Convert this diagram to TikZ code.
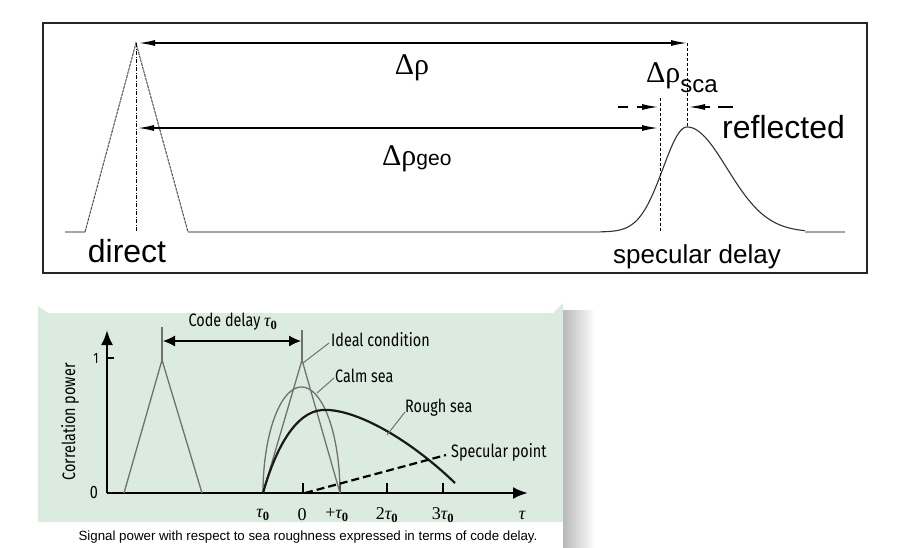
\documentclass[tikz,border=0pt]{standalone}
\usepackage{fontspec}
\setmainfont{Liberation Sans}
\newfontfamily\serifgr{Liberation Serif}
\newfontfamily\cond[FakeStretch=0.8]{Fira Sans}
\usetikzlibrary{arrows.meta}
\definecolor{panelgreen}{HTML}{DCEBE0}
\definecolor{curvegray}{HTML}{707070}
\newcommand{\tauz}{{\serifgr\itshape τ}\textsubscript{\serifgr\bfseries 0}}
\tikzset{
  topframe/.style={line width=1.2pt, draw=black!85},
  topbase/.style={line width=1.3pt, draw=black!35},
  toptri/.style={line width=1pt, draw=black!70, dash pattern=on 3pt off 0.8pt},
  reflcurve/.style={line width=1.1pt, draw=black!80},
  vdashline/.style={line width=1pt, dash pattern=on 3pt off 2pt},
  vdashdot/.style={line width=1pt, dash pattern=on 4pt off 1.5pt on 1pt off 1.5pt},
  dimarrow/.style={line width=1.3pt, {Latex[length=16pt,width=6pt]}-{Latex[length=16pt,width=6pt]}},
  smallarrow/.style={line width=1.2pt, -{Latex[length=16pt,width=6pt]}},
  smallline/.style={line width=1.2pt},
  bigtxt/.style={inner sep=0pt, font=\fontsize{32}{36}\selectfont},
  midtxt/.style={inner sep=0pt, font=\fontsize{26}{30}\selectfont},
  grtxt/.style={inner sep=0pt, font=\serifgr\fontsize{30}{34}\selectfont},
  axisline/.style={line width=2.5pt, -{Latex[length=15pt,width=12pt]}},
  tickline/.style={line width=1.4pt},
  graycurve/.style={line width=1.3pt, draw=curvegray},
  roughcurve/.style={line width=2.2pt, draw=black!90},
  specline/.style={line width=2.2pt, dash pattern=on 8pt off 4pt},
  leader/.style={line width=1pt, draw=curvegray},
  codearrow/.style={line width=1.2pt, {Latex[length=12pt,width=11pt]}-{Latex[length=12pt,width=11pt]}},
  condtxt/.style={inner sep=0pt, font=\cond\fontsize{18}{21}\selectfont},
  axtxt/.style={inner sep=0pt, font=\serifgr\fontsize{18}{21}\selectfont},
}
\begin{document}
\begin{tikzpicture}[x=1pt, y=-1pt]
\useasboundingbox (0,0) rectangle (898,547);
\fill[white] (0,0) rectangle (898,547);

% ---------------- top panel ----------------
\draw[topframe] (43,23) rectangle (867,273);
\coordinate (b0) at (65,232);
\coordinate (dL) at (85,232);
\coordinate (dP) at (136,43);
\coordinate (dR) at (188,232);
\coordinate (dB) at (136,232);
\coordinate (rA) at (600,232);
\coordinate (rZ) at (805,232);
\coordinate (b1) at (845,232);
\draw[topbase] (b0) -- (dL);
\draw[topbase] (dR) -- (rA);
\draw[topbase] (rZ) -- (b1);
\draw[toptri] (dL) -- (dP) -- (dR);
\draw[vdashdot] (dP) -- (dB);
\draw[reflcurve] plot[domain=600:687, samples=70] (\x, {232-105*exp(-((\x-687)^2)/1150)})
  -- plot[domain=687:805, samples=70] (\x, {232-105*exp(-((\x-687)^2)/3200)});

\coordinate (a1L) at (139,43);
\coordinate (a1R) at (687,43);
\coordinate (sP) at (687,127);
\draw[dimarrow] (a1L) -- (a1R);
\draw[vdashline] (a1R) -- (sP);

\coordinate (a2L) at (138,128);
\coordinate (a2R) at (658,128);
\draw[dimarrow] (a2L) -- (a2R);
\coordinate (g1) at (660,98);
\coordinate (g2) at (660,232);
\draw[vdashline] (g1) -- (g2);

\coordinate (s1) at (618,107);
\coordinate (s2) at (628,107);
\coordinate (s3) at (637,107);
\coordinate (s4) at (658,107);
\coordinate (t1) at (733,107);
\coordinate (t2) at (718,107);
\coordinate (t3) at (710,107);
\coordinate (t4) at (689,107);
\draw[smallline] (s1) -- (s2);
\draw[smallarrow] (s3) -- (s4);
\draw[smallline] (t1) -- (t2);
\draw[smallarrow] (t3) -- (t4);

\node[grtxt] (lrho) at (412,68) {Δρ};
\node[grtxt, anchor=base west] (lgeo) at (382,165) {Δρ\fontsize{21}{23}\selectfont\rmfamily geo};
\node[grtxt, anchor=base west] (lsca) at (646,82) {Δρ\raisebox{-10pt}{\fontsize{24}{26}\selectfont\rmfamily sca}};
\node[bigtxt, anchor=base west] (lrefl) at (722,138) {reflected};
\node[bigtxt, anchor=base] (ldir) at (127,262) {direct};
\node[midtxt, anchor=base] (lspec) at (697,263) {specular delay};

% ---------------- bottom panel ----------------
\shade[left color=black!28, right color=white] (563,310) rectangle (595,547);
\fill[panelgreen] (38,306) -- (48,313) -- (553,313) -- (563,303) -- (563,522) -- (38,522) -- cycle;
\node[inner sep=0pt, font=\fontsize{13.3}{15}\selectfont] (cap) at (308,537)
  {Signal power with respect to sea roughness expressed in terms of code delay.};

\coordinate (O) at (107,493);
\coordinate (Y) at (107,330);
\coordinate (X) at (528,493);
\draw[axisline] (O) -- (Y);
\draw[axisline] (O) -- (X);
\coordinate (yt1) at (107,358);
\coordinate (yt2) at (114,358);
\draw[tickline] (yt1) -- (yt2);
\foreach \tx/\nm in {303/xa,340/xb,387/xc,443/xd} {
  \coordinate (\nm1) at (\tx,493);
  \coordinate (\nm2) at (\tx,483);
  \draw[tickline] (\nm1) -- (\nm2);
}

\node[inner sep=0pt, font=\cond\fontsize{15}{17}\selectfont] (one) at (96,358) {1};
\node[inner sep=0pt, font=\cond\fontsize{18}{20}\selectfont] (zero) at (94,492) {0};
\node[condtxt, rotate=90] (ylab) at (70,422) {Correlation power};

\node[axtxt] (xl1) at (263,515) {\tauz};
\node[axtxt] (xl2) at (302,515) {0};
\node[axtxt] (xl3) at (337,515) {+\tauz};
\node[axtxt] (xl4) at (387,515) {2\tauz};
\node[axtxt] (xl5) at (443,515) {3\tauz};
\node[axtxt] (xl6) at (522,515) {\itshape τ};

% direct triangle
\coordinate (lt1) at (124,493);
\coordinate (lt2) at (162,360);
\coordinate (lt3) at (202,493);
\coordinate (lv) at (162,327);
\draw[graycurve] (lt1) -- (lt2) -- (lt3);
\draw[graycurve] (lv) -- (lt2);

\coordinate (cd1) at (163,341);
\coordinate (cd2) at (301,341);
\draw[codearrow] (cd1) -- (cd2);
\node[condtxt] (lcode) at (233,322) {Code delay \tauz};

% ideal triangle
\coordinate (it1) at (263,493);
\coordinate (it2) at (302,360);
\coordinate (it3) at (340,493);
\coordinate (iv) at (302,330);
\draw[graycurve] (it1) -- (it2) -- (it3);
\draw[graycurve] (iv) -- (it2);

% calm sea
\draw[graycurve] plot[domain=180:360, samples=60] ({301.5+38.5*cos(\x)}, {493+106*sin(\x)});

% rough sea
\coordinate (rs0) at (263,493);
\coordinate (rs1) at (322,410);
\coordinate (rs2) at (455,483);
\draw[roughcurve] (rs0) .. controls (275,450) and (295,412) .. (rs1)
  .. controls (352,408) and (405,435) .. (rs2);

% specular
\coordinate (sp1) at (305,493);
\coordinate (sp2) at (446,455);
\draw[specline] (sp1) -- (sp2);

% leaders and labels
\coordinate (li1) at (303,363);
\coordinate (li2) at (329,343);
\draw[leader] (li1) -- (li2);
\node[condtxt, anchor=west] (lideal) at (331,340) {Ideal condition};
\coordinate (lc1) at (317,393);
\coordinate (lc2) at (334,378);
\draw[leader] (lc1) -- (lc2);
\node[condtxt, anchor=west] (lcalm) at (335,376) {Calm sea};
\coordinate (lr1) at (387,435);
\coordinate (lr2) at (405,412);
\draw[leader] (lr1) -- (lr2);
\node[condtxt, anchor=west] (lrough) at (405,408) {Rough sea};
\node[condtxt, anchor=west] (lspecpt) at (451,452) {Specular point};
\end{tikzpicture}
\end{document}
